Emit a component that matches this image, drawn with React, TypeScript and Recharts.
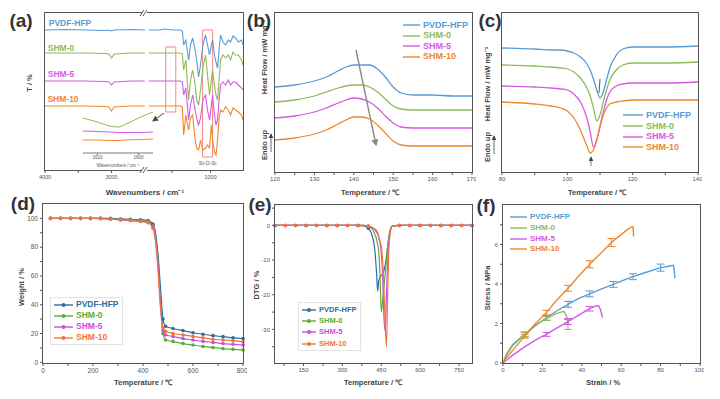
import React from 'react';
import { LineChart, Line, XAxis, YAxis, ReferenceArea, Legend, ErrorBar } from 'recharts';

const FONT = 'Arial, "Liberation Sans", sans-serif';
const SERIES = ['PVDF-HFP', 'SHM-0', 'SHM-5', 'SHM-10'];
const KEYS = ['pvdf', 'shm0', 'shm5', 'shm10'];
const COL_LIGHT = ['#5b9bd5', '#8dbb58', '#d45ae3', '#f0872a'];
const COL_DARK = ['#2e6da4', '#5aac35', '#c94ee0', '#f27438'];

// (a) FTIR, wavenumber / cm-1 and T (a.u.)
const irWave = [4000, 3700, 3400, 3100, 3040, 3000, 2960, 2700, 2500, 1800, 1650, 1600, 1500, 1400, 1365, 1348, 1320, 1284, 1260, 1232, 1200, 1180, 1155, 1130, 1100, 1065, 1040, 1013, 990, 974, 950, 930, 910, 890, 871, 840, 806, 770, 742, 710, 677, 640, 600, 580];
const irPvdf = [140, 140.5, 140, 139.5, 140, 139, 140, 140.5, 140, 140, 140, 141, 140, 140, 139, 125, 130, 110, 125, 132, 120, 110, 93, 105, 125, 135, 125, 115, 125, 130, 115, 108, 102, 120, 135, 128, 125, 130, 128, 134, 132, 128, 130, 125];
const irShm0 = [117, 117, 117, 116.5, 116, 112, 116, 117, 117, 117, 117, 117, 117, 117, 116, 100, 110, 70, 90, 100, 85, 70, 65, 80, 102, 115, 95, 75, 90, 100, 85, 75, 70, 90, 110, 115, 112, 115, 110, 118, 115, 115, 110, 105];
const irShm5 = [89, 89, 89, 88.5, 88, 85, 88, 89, 89, 89, 89, 89, 89, 89, 88, 75, 82, 50, 65, 75, 60, 52, 45, 52, 70, 75, 60, 50, 65, 75, 55, 45, 50, 70, 85, 88, 85, 90, 85, 88, 88, 85, 82, 80];
const irShm10 = [64, 64, 64, 63.5, 63, 59, 63, 64, 64, 64, 64, 64, 64, 64, 63, 35, 55, 40, 52, 55, 30, 22, 20, 30, 20, 22, 25, 22, 45, 30, 18, 15, 30, 52, 60, 58, 63, 60, 55, 62, 60, 58, 55, 50];
const irTicks = [4000, 3500, 3000, 1500, 1000];
const irTickLabels = ['4000', '', '3000', '', '1000'];

// (a) inset around 1600 cm-1
const insetWave = [1613.5, 1610, 1607, 1605, 1603, 1600, 1596.5];
const insetShm0 = [35, 31, 27, 26, 29, 35, 41];
const insetShm5 = [22, 21.5, 21, 20.5, 20.5, 20.5, 21];
const insetShm10 = [13, 13, 12.5, 12.5, 13, 13.5, 14];

// (b) DSC heating
const heatT = [120, 125, 130, 133, 136, 138, 140, 142, 144, 146, 148, 150, 152, 155, 160, 165, 170];
const heatPvdf = [85, 87, 91, 95, 101, 105, 107, 107, 107, 103, 95, 85, 79, 77, 77, 76, 76];
const heatShm0 = [70, 72, 76, 80, 84, 86, 87, 87, 85, 80, 73, 66, 63, 62, 62, 62, 62];
const heatShm5 = [54, 56, 60, 64, 69, 72, 74, 73, 70, 64, 56, 49, 45, 44, 44, 44, 44];
const heatShm10 = [32, 34, 38, 42, 48, 52, 55, 55, 53, 47, 39, 31, 27, 26, 26, 26, 26];

// (c) DSC cooling
const coolT = [80, 90, 95, 98, 100, 102, 104, 106, 107, 108, 109, 110, 111, 112, 113, 115, 117, 120, 125, 130, 140];
const coolPvdf = [124, 123, 122, 122, 121, 119, 115, 108, 102, 93, 82, 74, 80, 92, 104, 117, 123, 125, 125, 125, 126];
const coolShm0 = [107, 106, 105, 104, 103, 100, 94, 84, 76, 64, 51, 57, 70, 82, 92, 102, 107, 109, 109, 109, 110];
const coolShm5 = [86, 85, 84, 83, 82, 78, 70, 54, 40, 25, 32, 46, 60, 72, 80, 86, 88, 89, 89, 89, 90];
const coolShm10 = [70, 68, 66, 64, 61, 54, 42, 26, 19, 22, 32, 45, 57, 64, 68, 70, 71, 72, 72, 72, 72];

// (d) TGA
const tgaT = [30, 70, 110, 150, 190, 230, 270, 310, 350, 390, 420, 440, 450, 460, 470, 480, 490, 520, 560, 600, 640, 680, 720, 760, 800];
const tgaPvdf = [100, 100, 100, 100, 100, 100, 100, 99.6, 99.3, 99, 98.5, 96, 90, 75, 52, 30, 25, 23.5, 22, 20.5, 19.5, 18.5, 17.8, 17, 16.5];
const tgaShm0 = [100, 100, 100, 100, 100, 100, 99.7, 99.3, 99, 98.5, 98, 95, 88, 70, 42, 20, 15.5, 14.5, 13, 12, 11, 10.2, 9.5, 9, 8.5];
const tgaShm5 = [100, 100, 100, 100, 100, 100, 99.5, 99, 98.5, 98, 97.5, 94, 86, 68, 40, 22, 19, 18, 16.5, 15.5, 14.5, 13.8, 13, 12.5, 12];
const tgaShm10 = [100, 100, 100, 100, 100, 99.8, 99.5, 99, 98.5, 97.8, 97, 93, 84, 64, 38, 24, 21.5, 20, 19, 18, 17, 16, 15.5, 15, 14.3];

// (e) DTG
const dtgT = [40, 80, 120, 160, 200, 240, 280, 320, 360, 380, 400, 415, 425, 432, 436, 440, 445, 450, 455, 460, 465, 470, 475, 480, 486, 492, 520, 560, 600, 640, 680, 720, 760, 800];
const dtgPvdf = [0, 0, 0, 0, 0, 0, 0, 0, 0, -0.1, -0.8, -3, -7, -14, -19, -16, -15, -14.5, -14, -13, -11.5, -9, -6, -3, -1, -0.2, 0, 0, 0, 0, 0, 0, 0, 0];
const dtgShm0 = [0, 0, 0, 0, 0, 0, 0, 0, 0, 0, -0.3, -1, -2.5, -4, -5.5, -7.5, -14, -25, -22, -18, -14, -10, -6, -3, -1, -0.2, 0, 0, 0, 0, 0, 0, 0, 0];
const dtgShm5 = [0, 0, 0, 0, 0, 0, 0, 0, 0, 0, -0.2, -0.6, -1.2, -2, -2.5, -3.5, -5, -8, -14, -26, -30.5, -20, -10, -4, -1.2, -0.2, 0, 0, 0, 0, 0, 0, 0, 0];
const dtgShm10 = [0, 0, 0, 0, 0, 0, 0, 0, 0, 0, -0.2, -0.5, -1, -1.5, -2, -3, -4.5, -6, -10, -18, -28, -35, -18, -6, -1.5, -0.2, 0, 0, 0, 0, 0, 0, 0, 0];

// (f) stress-strain, with error bars
const pvdfStrain = [0, 2, 5, 11, 16, 22, 27, 33, 38, 44, 50, 56, 61, 66, 72, 80, 84, 86.5, 87, 87.3];
const pvdfStress = [0, 0.45, 0.9, 1.44, 1.85, 2.29, 2.62, 2.97, 3.25, 3.5, 3.75, 3.98, 4.18, 4.37, 4.57, 4.83, 4.9, 4.95, 4.6, 4.3];
const pvdfErr = [0, 0, 0, 0.12, 0, 0.12, 0, 0.15, 0, 0.15, 0, 0.15, 0, 0.15, 0, 0.18, 0, 0, 0, 0];
const shm0Strain = [0, 2, 5, 11, 16, 22, 27, 31, 32.5, 33];
const shm0Stress = [0, 0.5, 0.95, 1.45, 1.9, 2.25, 2.5, 2.62, 2.3, 1.95];
const shm0Err = [0, 0, 0, 0.12, 0, 0.1, 0, 0, 0, 0.25];
const shm5Strain = [0, 5, 11, 16, 22, 27, 33, 38, 44, 47, 48.5, 49.5, 50.5];
const shm5Stress = [0, 0.4, 0.82, 1.13, 1.45, 1.75, 2.1, 2.4, 2.75, 2.88, 2.9, 2.7, 2.3];
const shm5Err = [0, 0, 0, 0, 0.1, 0, 0.15, 0, 0.12, 0, 0, 0, 0];
const shm10Strain = [0, 2, 5, 11, 16, 22, 27, 33, 38, 44, 50, 55, 60, 63, 65, 66, 66.3];
const shm10Stress = [0, 0.3, 0.65, 1.35, 1.95, 2.55, 3.15, 3.78, 4.35, 5.0, 5.6, 6.1, 6.5, 6.75, 6.88, 6.9, 6.4];
const shm10Err = [0, 0, 0, 0.1, 0, 0.12, 0, 0.15, 0, 0.18, 0, 0.2, 0, 0, 0, 0, 0];

// broken wavenumber axis: 4000-2500 | 1800-580
const irPos = (w: number) => (w >= 2500 ? (4000 - w) * 0.0667 : 104 + (1800 - w) * 0.0775);

const zip = (xKey: string, xs: number[], cols: number[][]) =>
  xs.map((x, i) => {
    const row: any = { [xKey]: x };
    cols.forEach((c, k) => (row[KEYS[k]] = c[i]));
    return row;
  });

const irRows = irWave.flatMap((w, i) => {
  const row = { x: irPos(w), pvdf: irPvdf[i], shm0: irShm0[i], shm5: irShm5[i], shm10: irShm10[i] };
  return w === 1800 ? [{ x: 102, pvdf: null, shm0: null, shm5: null, shm10: null }, row] : [row];
});
const insetRows = insetWave.map((w, i) => ({ w, shm0: insetShm0[i], shm5: insetShm5[i], shm10: insetShm10[i] }));
const heatRows = zip('T', heatT, [heatPvdf, heatShm0, heatShm5, heatShm10]);
const coolRows = zip('T', coolT, [coolPvdf, coolShm0, coolShm5, coolShm10]);
const tgaRows = zip('T', tgaT, [tgaPvdf, tgaShm0, tgaShm5, tgaShm10]);
const dtgRows = zip('T', dtgT, [dtgPvdf, dtgShm0, dtgShm5, dtgShm10]);
const ssSets = [
  [pvdfStrain, pvdfStress, pvdfErr],
  [shm0Strain, shm0Stress, shm0Err],
  [shm5Strain, shm5Stress, shm5Err],
  [shm10Strain, shm10Stress, shm10Err],
].map(([s, y, e]) => s.map((v, i) => ({ s: v, y: y[i], e: e[i] || undefined })));

type Box = { l: number; t: number; r: number; b: number };
const BOX: Record<string, Box> = {
  a: { l: 45, t: 13, r: 243, b: 170 },
  b: { l: 275, t: 13, r: 472, b: 172 },
  c: { l: 502, t: 13, r: 698, b: 172 },
  d: { l: 43, t: 204, r: 243, b: 363 },
  e: { l: 275, t: 205, r: 472, b: 363 },
  f: { l: 503, t: 205, r: 700, b: 363 },
};
const YW = 30, XH = 22, PAD = 4;
const size = (b: Box) => ({
  width: b.r - b.l + YW + PAD,
  height: b.b - b.t + XH + PAD,
  margin: { top: PAD, right: PAD, left: 0, bottom: 0 },
});
const at = (b: Box): React.CSSProperties => ({ position: 'absolute', left: b.l - YW, top: b.t - PAD });
const legendAt = (b: Box, x: number, y: number) => ({ left: x - (b.l - YW), top: y - (b.t - PAD), width: 'auto', height: 'auto' });

const tickStyle = { fontSize: 6, fill: '#555', fontFamily: FONT };
const tickLine = { stroke: '#555' };
const everyOther = (step: number) => (v: number) => (Math.abs(v % step) < 1e-6 ? String(v) : '');

function Frame({ b }: { b: Box }) {
  return (
    <div style={{ position: 'absolute', left: b.l - 1, top: b.t - 1, width: b.r - b.l + 2, height: b.b - b.t + 2, border: '1.6px solid #555', boxSizing: 'border-box', pointerEvents: 'none' }} />
  );
}

function Txt({ x, y, children, rot = false, fs = 7.5, color = '#444', weight = 700 }: any) {
  return (
    <div style={{ position: 'absolute', left: x, top: y, transform: `translate(-50%,-50%)${rot ? ' rotate(-90deg)' : ''}`, fontSize: fs, fontWeight: weight, color, fontFamily: FONT, whiteSpace: 'nowrap', lineHeight: 1 }}>
      {children}
    </div>
  );
}

function PanelTag({ x, y, t }: { x: number; y: number; t: string }) {
  return <Txt x={x} y={y} fs={19} color="#333" weight={700}>{t}</Txt>;
}

function makeLegend(o: { w: number; h: number; fs: number; marker?: boolean; boxed?: boolean }) {
  return ({ payload }: any) => {
    const items = [...(payload || [])].sort((p: any, q: any) => SERIES.indexOf(p.value) - SERIES.indexOf(q.value));
    return (
      <div style={{ fontFamily: FONT, fontSize: o.fs, fontWeight: 700, background: o.boxed ? '#fff' : 'transparent', border: o.boxed ? '1px solid #e2e2e2' : 'none', padding: o.boxed ? '1px 3px' : 0 }}>
        {items.map((p: any) => (
          <div key={p.value} style={{ display: 'flex', alignItems: 'center', height: o.h }}>
            <svg width={o.w} height={6} style={{ marginRight: 3, flex: 'none' }}>
              <line x1={0} y1={3} x2={o.w} y2={3} stroke={p.color} strokeWidth={1.4} />
              {o.marker && <circle cx={o.w / 2} cy={3} r={2} fill={p.color} />}
            </svg>
            <span style={{ color: p.color, lineHeight: 1 }}>{p.value}</span>
          </div>
        ))}
      </div>
    );
  };
}

const dotTga = (color: string) => (p: any) =>
  p.payload.T < 445 || p.payload.T > 475
    ? <circle key={`d${p.index}`} cx={p.cx} cy={p.cy} r={1.8} fill={color} />
    : <g key={`d${p.index}`} />;
const dotDtg = (color: string) => (p: any) =>
  p.payload.T % 40 === 0 && (p.payload.T <= 400 || p.payload.T >= 520)
    ? <circle key={`d${p.index}`} cx={p.cx} cy={p.cy} r={1.8} fill={color} />
    : <g key={`d${p.index}`} />;

const App = () => {
  const { a, b, c, d, e, f } = BOX;
  const inset: Box = { l: 83, t: 108, r: 153, b: 153 };
  return (
    <div style={{ position: 'absolute', left: 0, top: 0, width: 720, height: 399, background: '#fff', overflow: 'hidden', fontFamily: FONT }}>
      {/* (a) FTIR */}
      <div style={at(a)}>
        <LineChart {...size(a)} data={irRows}>
          <XAxis type="number" dataKey="x" domain={[0, 198.5]} ticks={irTicks.map(irPos)} tickFormatter={(v: number) => irTickLabels[irTicks.map(irPos).indexOf(v)] ?? ''} height={XH} axisLine={false} tickLine={tickLine} tickSize={3} tick={{ ...tickStyle, fontSize: 5.5 }} allowDataOverflow />
          <YAxis type="number" domain={[0, 157]} width={YW} tick={false} tickLine={false} axisLine={false} allowDataOverflow />
          <ReferenceArea x1={irPos(1580)} x2={irPos(1450)} y1={58} y2={123} fill="none" stroke="#ef8a8a" strokeWidth={1} />
          <ReferenceArea x1={irPos(1103)} x2={irPos(974)} y1={13} y2={140} fill="none" stroke="#ef8a8a" strokeWidth={1} label={{ value: 'Si-O-Si', position: 'bottom', fontSize: 5.5, fill: '#555', offset: 4 }} />
          {KEYS.map((k, i) => (
            <Line key={k} dataKey={k} name={SERIES[i]} type="linear" stroke={COL_LIGHT[i]} strokeWidth={1.1} dot={false} isAnimationActive={false} />
          ))}
        </LineChart>
      </div>
      <div style={{ position: 'absolute', left: inset.l, top: inset.t }}>
        <LineChart width={inset.r - inset.l} height={inset.b - inset.t + 10} margin={{ top: 0, right: 0, left: 0, bottom: 0 }} data={insetRows}>
          <XAxis type="number" dataKey="w" reversed domain={[1596.5, 1613.5]} ticks={[1610, 1600]} height={10} axisLine={{ stroke: '#777' }} tickLine={{ stroke: '#777' }} tickSize={2} tickMargin={1} tick={{ ...tickStyle, fontSize: 4.5 }} />
          <YAxis hide domain={[0, 45]} />
          {['shm0', 'shm5', 'shm10'].map((k, i) => (
            <Line key={k} dataKey={k} type="monotone" stroke={COL_LIGHT[i + 1]} strokeWidth={1} dot={false} isAnimationActive={false} />
          ))}
        </LineChart>
      </div>
      <Txt x={118} y={166} fs={4.6} weight={400} color="#555">Wavenumbers / cm⁻¹</Txt>
      <Frame b={a} />
      {SERIES.map((s, i) => (
        <Txt key={s} x={[70, 61, 61, 63][i]} y={[23, 48, 74, 99][i]} fs={8.5} color={COL_LIGHT[i]}>{s}</Txt>
      ))}
      <Txt x={30} y={83} rot>T / %</Txt>
      <Txt x={145} y={193} fs={8}>Wavenumbers / cm⁻¹</Txt>

      {/* (b) DSC heating */}
      <div style={at(b)}>
        <LineChart {...size(b)} data={heatRows}>
          <XAxis type="number" dataKey="T" domain={[120, 170]} ticks={[120, 125, 130, 135, 140, 145, 150, 155, 160, 165, 170]} tickFormatter={everyOther(10)} height={XH} axisLine={false} tickLine={tickLine} tickSize={3} tick={tickStyle} />
          <YAxis type="number" domain={[0, 159]} ticks={[37, 72, 107, 139]} width={YW} tick={false} tickLine={tickLine} tickSize={3} axisLine={false} />
          <Legend layout="vertical" align="center" verticalAlign="middle" wrapperStyle={legendAt(b, 403, 20)} content={makeLegend({ w: 17, h: 10.5, fs: 9 })} />
          {KEYS.map((k, i) => (
            <Line key={k} dataKey={k} name={SERIES[i]} type="monotone" stroke={COL_LIGHT[i]} strokeWidth={1.3} dot={false} isAnimationActive={false} />
          ))}
        </LineChart>
      </div>
      <Frame b={b} />
      <Txt x={265} y={57} rot>Heat Flow / mW mg⁻¹</Txt>
      <Txt x={265} y={145} rot>Endo up</Txt>
      <Txt x={370} y={193}>Temperature / ℃</Txt>

      {/* (c) DSC cooling */}
      <div style={at(c)}>
        <LineChart {...size(c)} data={coolRows}>
          <XAxis type="number" dataKey="T" domain={[80, 140]} ticks={[80, 90, 100, 110, 120, 130, 140]} tickFormatter={everyOther(20)} height={XH} axisLine={false} tickLine={tickLine} tickSize={3} tick={tickStyle} />
          <YAxis type="number" domain={[0, 159]} ticks={[37, 72, 107, 139]} width={YW} tick={false} tickLine={tickLine} tickSize={3} axisLine={false} />
          <Legend layout="vertical" align="center" verticalAlign="middle" wrapperStyle={legendAt(c, 623, 110)} content={makeLegend({ w: 20, h: 10.7, fs: 9 })} />
          {KEYS.map((k, i) => (
            <Line key={k} dataKey={k} name={SERIES[i]} type="monotone" stroke={COL_LIGHT[i]} strokeWidth={1.3} dot={false} isAnimationActive={false} />
          ))}
        </LineChart>
      </div>
      <Frame b={c} />
      <Txt x={488} y={84} rot>Heat Flow / mW mg⁻¹</Txt>
      <Txt x={488} y={147} rot>Endo up</Txt>
      <Txt x={597} y={193}>Temperature / ℃</Txt>

      {/* (d) TGA */}
      <div style={at(d)}>
        <LineChart {...size(d)} data={tgaRows}>
          <XAxis type="number" dataKey="T" domain={[0, 800]} ticks={[0, 100, 200, 300, 400, 500, 600, 700, 800]} tickFormatter={everyOther(200)} height={XH} axisLine={false} tickLine={tickLine} tickSize={3} tick={{ ...tickStyle, fontSize: 6.5 }} />
          <YAxis type="number" domain={[-0.5, 110]} ticks={[0, 10, 20, 30, 40, 50, 60, 70, 80, 90, 100]} tickFormatter={everyOther(20)} width={YW} tickLine={tickLine} tickSize={3} axisLine={false} tick={{ ...tickStyle, fontSize: 6.5 }} allowDataOverflow />
          <Legend layout="vertical" align="center" verticalAlign="middle" wrapperStyle={legendAt(d, 50, 297)} content={makeLegend({ w: 19, h: 11, fs: 8.5, marker: true, boxed: true })} />
          {KEYS.map((k, i) => (
            <Line key={k} dataKey={k} name={SERIES[i]} type="monotone" stroke={COL_DARK[i]} strokeWidth={1.2} dot={dotTga(COL_DARK[i])} isAnimationActive={false} />
          ))}
        </LineChart>
      </div>
      <Frame b={d} />
      <Txt x={22} y={287} rot>Weight / %</Txt>
      <Txt x={143} y={383}>Temperature / ℃</Txt>

      {/* (e) DTG */}
      <div style={at(e)}>
        <LineChart {...size(e)} data={dtgRows}>
          <XAxis type="number" dataKey="T" domain={[40, 800]} ticks={[75, 150, 225, 300, 375, 450, 525, 600, 675, 750]} tickFormatter={everyOther(150)} height={XH} axisLine={false} tickLine={tickLine} tickSize={3} tick={tickStyle} />
          <YAxis type="number" domain={[-39.7, 5.9]} ticks={[-35, -30, -25, -20, -15, -10, -5, 0, 5]} tickFormatter={everyOther(10)} width={YW} tickLine={tickLine} tickSize={3} axisLine={false} tick={tickStyle} allowDataOverflow />
          <Legend layout="vertical" align="center" verticalAlign="middle" wrapperStyle={legendAt(e, 298, 302)} content={makeLegend({ w: 14, h: 11.3, fs: 7.5, marker: true, boxed: true })} />
          {KEYS.map((k, i) => (
            <Line key={k} dataKey={k} name={SERIES[i]} type="monotone" stroke={COL_DARK[i]} strokeWidth={1.2} dot={dotDtg(COL_DARK[i])} isAnimationActive={false} />
          ))}
        </LineChart>
      </div>
      <Frame b={e} />
      <Txt x={257} y={285} rot>DTG / %</Txt>
      <Txt x={373} y={383}>Temperature / ℃</Txt>

      {/* (f) stress-strain */}
      <div style={at(f)}>
        <LineChart {...size(f)}>
          <XAxis type="number" dataKey="s" domain={[0, 100]} ticks={[0, 10, 20, 30, 40, 50, 60, 70, 80, 90, 100]} tickFormatter={everyOther(20)} height={XH} axisLine={false} tickLine={tickLine} tickSize={3} tick={tickStyle} allowDuplicatedCategory={false} />
          <YAxis type="number" domain={[0, 8]} ticks={[0, 1, 2, 3, 4, 5, 6, 7]} tickFormatter={everyOther(2)} width={YW} tickLine={tickLine} tickSize={3} axisLine={false} tick={tickStyle} />
          <Legend layout="vertical" align="center" verticalAlign="middle" wrapperStyle={legendAt(f, 510, 212)} content={makeLegend({ w: 17, h: 10.7, fs: 8 })} />
          {ssSets.map((rows, i) => (
            <Line key={KEYS[i]} data={rows} dataKey="y" name={SERIES[i]} type="linear" stroke={COL_LIGHT[i]} strokeWidth={1.4} dot={false} isAnimationActive={false}>
              <ErrorBar dataKey="e" width={4} stroke={COL_LIGHT[i]} strokeWidth={1} direction="y" />
            </Line>
          ))}
        </LineChart>
      </div>
      <Frame b={f} />
      <Txt x={488} y={288} rot>Stress / MPa</Txt>
      <Txt x={603} y={383}>Strain / %</Txt>

      {/* annotations */}
      <svg width={720} height={399} style={{ position: 'absolute', left: 0, top: 0, pointerEvents: 'none' }}>
        <defs>
          <marker id="ah" markerWidth="6" markerHeight="6" refX="5" refY="3" orient="auto">
            <path d="M0,0 L6,3 L0,6 z" fill="#444" />
          </marker>
          <marker id="ahg" markerWidth="5" markerHeight="5" refX="4" refY="2.5" orient="auto">
            <path d="M0,0 L5,2.5 L0,5 z" fill="#888" />
          </marker>
        </defs>
        <line x1={164} y1={113} x2={153} y2={121} stroke="#444" strokeWidth={1} markerEnd="url(#ah)" />
        {[13, 170].map((y) => (
          <g key={y}>
            <rect x={142} y={y - 2} width={5} height={4} fill="#fff" />
            <line x1={140} y1={y + 3} x2={144} y2={y - 3} stroke="#555" strokeWidth={1} />
            <line x1={143} y1={y + 3} x2={147} y2={y - 3} stroke="#555" strokeWidth={1} />
          </g>
        ))}
        <line x1={356} y1={50} x2={376} y2={145} stroke="#8a8a8a" strokeWidth={1.4} markerEnd="url(#ahg)" />
        <line x1={271} y1={152} x2={271} y2={134} stroke="#444" strokeWidth={0.8} markerEnd="url(#ah)" />
        <line x1={494} y1={154} x2={494} y2={136} stroke="#444" strokeWidth={0.8} markerEnd="url(#ah)" />
        <line x1={600} y1={79} x2={599} y2={93} stroke="#555" strokeWidth={1} />
        <line x1={591} y1={166} x2={591} y2={157} stroke="#555" strokeWidth={0.8} markerEnd="url(#ah)" />
      </svg>

      <PanelTag x={21} y={20} t="(a)" />
      <PanelTag x={259} y={20} t="(b)" />
      <PanelTag x={490} y={20} t="(c)" />
      <PanelTag x={23} y={203} t="(d)" />
      <PanelTag x={260} y={204} t="(e)" />
      <PanelTag x={486} y={205} t="(f)" />
    </div>
  );
};

export default App;
